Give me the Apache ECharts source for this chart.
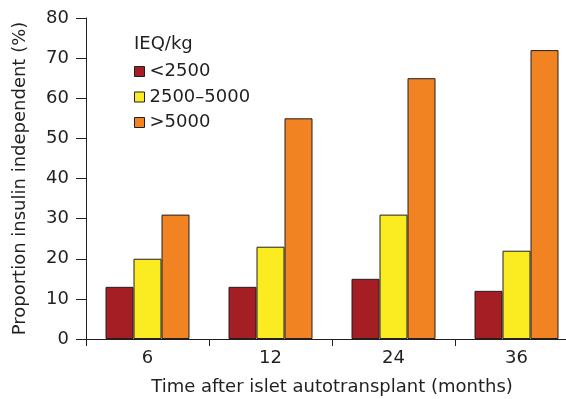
<!DOCTYPE html>
<html>
<head>
<meta charset="utf-8">
<script src="https://cdn.jsdelivr.net/npm/echarts@6/dist/echarts.min.js"></script>
<style>
  html, body { margin: 0; padding: 0; background: #fff; }
  #chart { width: 566px; height: 399px; }
</style>
</head>
<body>
<div id="chart"></div>
<script>
// Time points after transplant (months)
const categories = ['6', '12', '24', '36'];
// Islet equivalents per kg groups
const groupNames = ['<2500', '2500\u20135000', '>5000'];
// Proportion insulin independent (%) per group
const lowDose = [13, 13, 15, 12];
const midDose = [20, 23, 31, 22];
const highDose = [31, 55, 65, 72];
const yTicks = [0, 10, 20, 30, 40, 50, 60, 70, 80];

const ink = '#231F20';
const font = 'DejaVu Sans, Liberation Sans, Arial, sans-serif';
const fs = 18;
const colors = ['#A51E24', '#FBEC21', '#F28322'];
const seriesData = [lowDose, midDose, highDose];

const chart = echarts.init(document.getElementById('chart'), null, { renderer: 'canvas' });

chart.setOption({
  animation: false,
  backgroundColor: '#ffffff',
  textStyle: { fontFamily: font, color: ink },
  title: {
    text: 'IEQ/kg',
    left: 134,
    top: 35,
    padding: 0,
    textStyle: { fontFamily: font, fontSize: fs, fontWeight: 'normal', color: ink }
  },
  legend: {
    orient: 'vertical',
    left: 129,
    top: 57.5,
    itemWidth: 10,
    itemHeight: 10,
    itemGap: 7.5,
    icon: 'rect',
    data: groupNames,
    itemStyle: { borderColor: ink, borderWidth: 1 },
    textStyle: { fontFamily: font, fontSize: fs, lineHeight: 18, color: ink }
  },
  grid: { left: 86, top: 18, width: 492, height: 321, outerBoundsMode: 'none' },
  xAxis: {
    type: 'category',
    data: categories,
    name: 'Time after islet autotransplant (months)',
    nameLocation: 'middle',
    nameGap: 39,
    nameTextStyle: { fontFamily: font, fontSize: fs, color: ink },
    axisLine: { lineStyle: { color: ink, width: 1 } },
    axisTick: { show: true, length: 7, alignWithLabel: false, lineStyle: { color: ink } },
    axisLabel: { fontFamily: font, fontSize: fs, color: ink, margin: 10 }
  },
  yAxis: {
    type: 'value',
    min: yTicks[0],
    max: yTicks[yTicks.length - 1],
    interval: 10,
    name: 'Proportion insulin independent (%)',
    nameLocation: 'middle',
    nameGap: 57,
    nameTextStyle: { fontFamily: font, fontSize: fs, color: ink },
    axisLine: { show: true, lineStyle: { color: ink, width: 1 } },
    axisTick: { show: true, length: 10, lineStyle: { color: ink } },
    axisLabel: { fontFamily: font, fontSize: fs, color: ink, margin: 17 },
    splitLine: { show: false }
  },
  series: groupNames.map((name, i) => ({
    name: name,
    type: 'bar',
    data: seriesData[i],
    barWidth: 28,
    barGap: '0%',
    itemStyle: { color: colors[i], borderColor: ink, borderWidth: 1 }
  }))
});
</script>
</body>
</html>
